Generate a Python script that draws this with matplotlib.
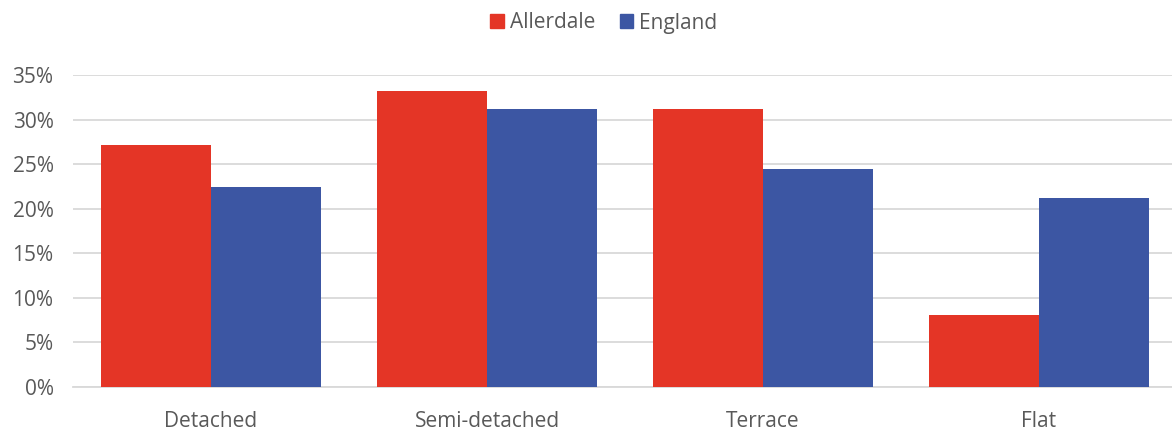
import matplotlib
matplotlib.use("Agg")
import matplotlib.pyplot as plt
import numpy as np
from matplotlib.ticker import FuncFormatter
from matplotlib.patches import Patch

categories = ["Detached", "Semi-detached", "Terrace", "Flat"]
allerdale = [27.1, 33.2, 31.2, 8.1]
england = [22.4, 31.2, 24.5, 21.2]
series_names = ["Allerdale", "England"]
yticks = [0, 5, 10, 15, 20, 25, 30, 35]

red = "#E43526"
blue = "#3C56A3"
txt = "#595959"
grid = "#D9D9D9"

plt.rcParams['font.family'] = ['Open Sans', 'DejaVu Sans']

fig = plt.figure(figsize=(11.72, 4.32), dpi=100)
ax = fig.add_axes([73/1172, 1 - 387/432, (1177 - 73)/1172, (387 - 75)/432])

x = np.arange(len(categories))
w = 0.4
ax.bar(x - w/2, allerdale, w, color=red, zorder=3, label=series_names[0])
ax.bar(x + w/2, england, w, color=blue, zorder=3, label=series_names[1])

ax.set_xlim(-0.5, len(categories) - 0.5)
ax.set_ylim(0, 35)
ax.set_yticks(yticks)
ax.yaxis.set_major_formatter(FuncFormatter(lambda v, p: f"{int(v)}%"))
ax.set_xticks(x)
ax.set_xticklabels(categories)
ax.grid(axis='y', color=grid, linewidth=1.3, zorder=0)
for s in ["top", "right", "left"]:
    ax.spines[s].set_visible(False)
ax.spines["bottom"].set_color(grid)
ax.spines["bottom"].set_linewidth(1.3)
ax.tick_params(axis='both', length=0, labelsize=15, colors=txt)
ax.tick_params(axis='y', pad=14)
ax.tick_params(axis='x', pad=17)

handles = [Patch(color=red), Patch(color=blue)]
fig.legend(handles, series_names, loc='center', bbox_to_anchor=(604/1172, 1 - 23/432),
           ncol=2, frameon=False, fontsize=15, labelcolor=txt,
           handlelength=0.65, handleheight=0.65, handletextpad=0.3, columnspacing=1.15)

fig.savefig("out.png", dpi=100)
